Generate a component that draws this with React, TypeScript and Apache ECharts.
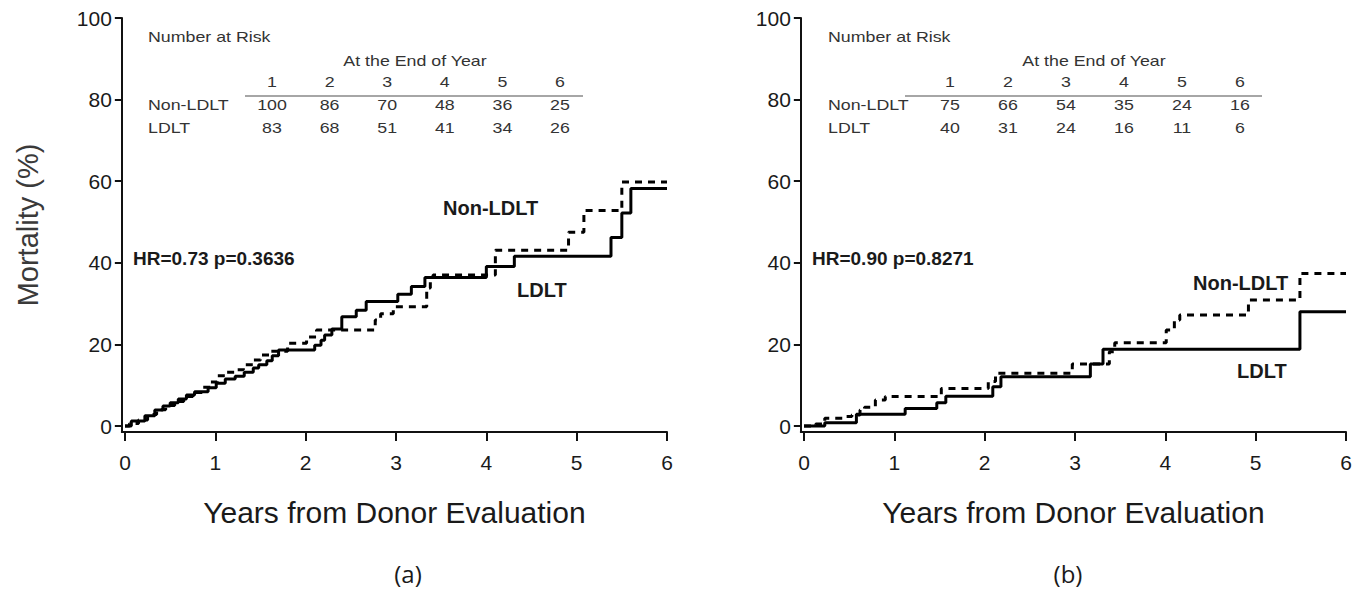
import React, { useEffect, useRef } from "react";
import * as echarts from "echarts";

// Kaplan-Meier style cumulative mortality (%), [years, percent] steps
const nonLdltA: [number, number][] = [
  [0, 0], [0.05, 0.6], [0.15, 1.5], [0.25, 2.8], [0.35, 4], [0.45, 5], [0.55, 6], [0.65, 7.2],
  [0.75, 8.2], [0.85, 9.5], [0.95, 10.8], [1.02, 12.3], [1.12, 13.2], [1.24, 13.8], [1.31, 15],
  [1.42, 16.2], [1.5, 17.4], [1.6, 18.3], [1.8, 20.3], [2.01, 21.8], [2.12, 23.5], [2.77, 26],
  [2.83, 27.5], [2.97, 29.2], [3.34, 33.8], [3.38, 35.4], [3.41, 37], [4.1, 43.1], [4.91, 47.5],
  [5.08, 52.8], [5.5, 59.8], [6, 59.8],
];
const ldltA: [number, number][] = [
  [0, 0], [0.07, 1.2], [0.22, 2.5], [0.33, 3.9], [0.42, 4.9], [0.5, 5.7], [0.59, 6.6], [0.68, 7.6],
  [0.77, 8.4], [0.92, 9.4], [1.01, 10.5], [1.11, 11.5], [1.22, 12.2], [1.32, 13.2], [1.42, 14.2],
  [1.48, 15], [1.57, 16], [1.63, 17.2], [1.7, 18.6], [2.1, 19.8], [2.17, 21], [2.21, 22.3],
  [2.29, 23.8], [2.4, 26.8], [2.56, 28.4], [2.67, 30.5], [3.02, 32.3], [3.17, 34.2], [3.32, 36.4],
  [4.0, 39.1], [4.31, 41.6], [5.38, 46.2], [5.5, 52.2], [5.6, 58.2], [6, 58.2],
];
const nonLdltB: [number, number][] = [
  [0, 0], [0.13, 0.5], [0.23, 1.9], [0.44, 2.3], [0.53, 2.7], [0.62, 3.9], [0.67, 4.6], [0.79, 6.4],
  [0.9, 7.2], [1.52, 9.2], [2.04, 10.9], [2.12, 12.9], [2.97, 15.2], [3.38, 18.2], [3.44, 20.4],
  [4.01, 23.5], [4.1, 26], [4.16, 27.2], [4.92, 30.9], [5.49, 37.4], [6, 37.4],
];
const ldltB: [number, number][] = [
  [0, 0], [0.23, 0.8], [0.58, 2.9], [1.12, 4.3], [1.47, 5.7], [1.57, 7.3], [2.09, 9.6], [2.18, 12.1],
  [3.17, 15.2], [3.31, 18.8], [5.49, 28], [6, 28],
];

// Axis ticks
const xTicks = [0, 1, 2, 3, 4, 5, 6];
const yTicks = [0, 20, 40, 60, 80, 100];

// Number at risk table
const riskYears = ["1", "2", "3", "4", "5", "6"];
const riskNonA = [100, 86, 70, 48, 36, 25];
const riskLdltA = [83, 68, 51, 41, 34, 26];
const riskNonB = [75, 66, 54, 35, 24, 16];
const riskLdltB = [40, 31, 24, 16, 11, 6];

const statsA = "HR=0.73 p=0.3636";
const statsB = "HR=0.90 p=0.8271";
const xTitle = "Years from Donor Evaluation";
const yTitle = "Mortality (%)";

const FONT = "'Liberation Sans', Arial, sans-serif";
const TXT = "#1a1a1a";

function tableGraphics(x0: number, colX0: number, colStep: number, nonRow: number[], ldltRow: number[], lineX1: number, lineX2: number, midX: number) {
  const els: any[] = [];
  const t = (text: string, x: number, y: number, align: string = "left") => ({
    type: "text",
    x,
    y,
    scaleY: 0.85,
    style: { text, x: 0, y: 0, fill: "#333", font: `17.8px ${FONT}`, textAlign: align, textVerticalAlign: "middle" },
  });
  els.push(t("Number at Risk", x0, 37));
  els.push(t("At the End of Year", midX, 61, "center"));
  riskYears.forEach((y, i) => els.push(t(y, colX0 + i * colStep, 82, "center")));
  els.push({ type: "line", shape: { x1: lineX1, y1: 96, x2: lineX2, y2: 96 }, style: { stroke: "#888", lineWidth: 1.5 } });
  els.push(t("Non-LDLT", x0, 105));
  els.push(t("LDLT", x0, 128));
  nonRow.forEach((v, i) => els.push(t(String(v), colX0 + i * colStep, 105, "center")));
  ldltRow.forEach((v, i) => els.push(t(String(v), colX0 + i * colStep, 128, "center")));
  return els;
}

function lbl(text: string, x: number, y: number, size: number, bold: boolean, align = "left", fam = FONT) {
  return {
    type: "text",
    x,
    y,
    style: { text, x: 0, y: 0, fill: TXT, font: `${bold ? "bold " : ""}${size}px ${fam}`, textAlign: align, textVerticalAlign: "middle" },
  };
}

// axis ranges: small padding below zero so the axes meet at the corner
const X_MIN = -0.035;
const Y_MIN = -1.47;

export default function App() {
  const ref = useRef<HTMLDivElement>(null);
  useEffect(() => {
    document.body.style.margin = "0";
    const chart = echarts.init(ref.current!, null, { renderer: "svg" });
    const axisLine = { show: true, onZero: false, lineStyle: { color: "#111", width: 2 } };
    const mkX = (idx: number) => ({
      type: "value",
      gridIndex: idx,
      min: X_MIN,
      max: 6,
      axisLine,
      axisTick: { show: true, length: 9, customValues: xTicks, lineStyle: { color: "#111", width: 2 } },
      axisLabel: { fontSize: 21, color: TXT, fontFamily: FONT, margin: 20, customValues: xTicks },
      splitLine: { show: false },
      name: xTitle,
      nameLocation: "middle",
      nameGap: 66,
      nameTextStyle: { fontSize: 30, color: TXT, fontFamily: FONT },
    });
    const mkY = (idx: number) => ({
      type: "value",
      gridIndex: idx,
      min: Y_MIN,
      max: 100,
      axisLine,
      axisTick: { show: true, length: 7, customValues: yTicks, lineStyle: { color: "#111", width: 2 } },
      axisLabel: { fontSize: 21, color: TXT, fontFamily: FONT, margin: 10, customValues: yTicks },
      splitLine: { show: false },
      name: idx === 0 ? yTitle : "",
      nameLocation: "middle",
      nameRotate: 90,
      nameGap: 79,
      nameTextStyle: { fontSize: 29, color: "#3a3a3a", fontFamily: FONT },
    });
    const solid = { color: "#000", width: 3, type: "solid" };
    const dashed = { color: "#000", width: 3, type: [7, 6] };
    const mkSeries = (data: [number, number][], idx: number, ls: any) => ({
      type: "line",
      xAxisIndex: idx,
      yAxisIndex: idx,
      data,
      step: "end",
      symbol: "none",
      lineStyle: ls,
      silent: true,
    });
    const pxPerYear = 542 / 6;
    const pxPerPct = 408 / 100;
    const gl = (x0: number) => ({
      left: x0 + X_MIN * pxPerYear,
      top: 18,
      width: 542 - X_MIN * pxPerYear,
      height: 408 - Y_MIN * pxPerPct,
    });
    chart.setOption({
      animation: false,
      backgroundColor: "#fff",
      grid: [gl(125), gl(804)],
      xAxis: [mkX(0), mkX(1)],
      yAxis: [mkY(0), mkY(1)],
      series: [
        mkSeries(nonLdltA, 0, dashed),
        mkSeries(ldltA, 0, solid),
        mkSeries(nonLdltB, 1, dashed),
        mkSeries(ldltB, 1, solid),
      ],
      graphic: [
        ...tableGraphics(148, 272, 57.6, riskNonA, riskLdltA, 245, 583, 415),
        ...tableGraphics(828, 950, 58, riskNonB, riskLdltB, 905, 1262, 1094),
        lbl(statsA, 133, 258, 19, true),
        lbl(statsB, 812, 258, 19, true),
        lbl("Non-LDLT", 443, 208, 20, true),
        lbl("LDLT", 517, 290, 20, true),
        lbl("Non-LDLT", 1193, 283, 20, true),
        lbl("LDLT", 1237, 371, 20, true),
        lbl("(a)", 408, 573, 24, false, "center", "'Open Sans', 'Noto Sans', sans-serif"),
        lbl("(b)", 1068, 573, 24, false, "center", "'Open Sans', 'Noto Sans', sans-serif"),
      ],
    });
    return () => chart.dispose();
  }, []);
  return <div ref={ref} style={{ width: 1363, height: 593 }} />;
}
